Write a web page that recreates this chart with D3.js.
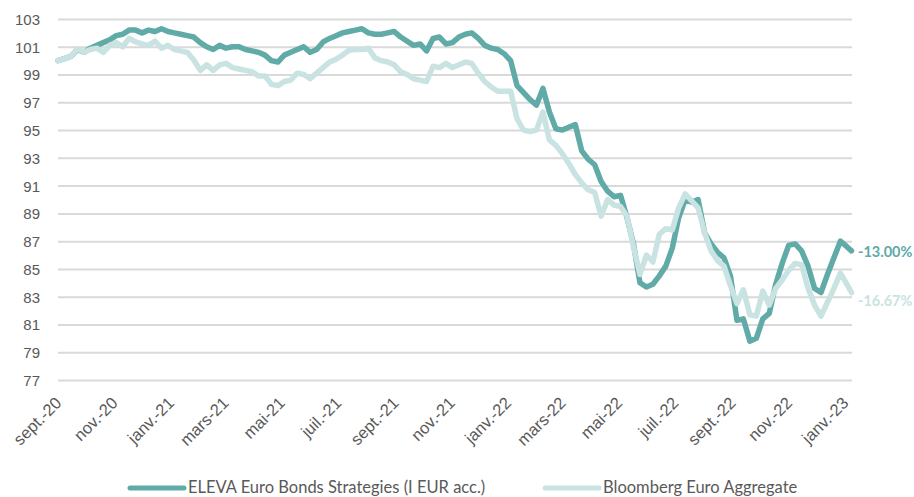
<!DOCTYPE html>
<meta charset="utf-8">
<style>
  body { margin: 0; background: #fff; }
  svg { font-family: "Lato", "Open Sans", sans-serif; }
  .tick text { fill: #595959; }
</style>
<body></body>
<script src="https://d3js.org/d3.v7.min.js"></script>
<script>

// weekly observations, base 100 at sept. 2020
var startDate = new Date(2020, 8, 1);
var lastDate = new Date(2023, 0, 8);

var eleva = [
  100.0, 100.15, 100.3, 100.8, 100.6, 100.9, 101.1, 101.3, 101.5, 101.8,
  101.9, 102.2, 102.2, 102.0, 102.2, 102.1, 102.3, 102.1, 102.0, 101.9,
  101.8, 101.7, 101.3, 101.0, 100.8, 101.1, 100.9, 101.0, 101.0, 100.8,
  100.7, 100.6, 100.4, 100.0, 99.9, 100.4, 100.6, 100.8, 101.0, 100.6,
  100.8, 101.35, 101.6, 101.8, 102.0, 102.1, 102.2, 102.3, 102.0, 101.9,
  101.9, 102.0, 102.1, 101.7, 101.4, 101.1, 101.2, 100.7, 101.6, 101.7,
  101.2, 101.3, 101.7, 101.9, 102.0, 101.6, 101.1, 100.9, 100.8, 100.5,
  100.0, 98.2, 97.7, 97.2, 96.8, 98.0, 96.3, 95.1, 95.0, 95.2,
  95.4, 93.5, 92.9, 92.5, 91.3, 90.6, 90.2, 90.3, 88.7, 86.8,
  84.0, 83.7, 83.9, 84.5, 85.2, 86.5, 88.7, 90.0, 89.8, 90.0,
  87.6, 86.8, 86.2, 85.8, 84.5, 81.3, 81.4, 79.8, 80.0, 81.4,
  81.8, 83.9, 85.4, 86.7, 86.8, 86.3, 85.2, 83.6, 83.3, 84.6,
  85.8, 87.0, 86.6, 86.3
];

var bloomberg = [
  100.0, 100.15, 100.3, 100.85, 100.6, 100.8, 100.9, 100.6, 101.1, 101.3,
  101.0, 101.6, 101.35, 101.2, 101.1, 101.4, 100.9, 101.1, 100.8, 100.7,
  100.6, 100.05, 99.3, 99.7, 99.3, 99.7, 99.8, 99.5, 99.4, 99.3,
  99.2, 98.9, 98.9, 98.3, 98.2, 98.5, 98.6, 99.1, 99.0, 98.7,
  99.1, 99.5, 99.9, 100.1, 100.4, 100.75, 100.8, 100.8, 100.9, 100.2,
  100.0, 99.9, 99.7, 99.2, 99.0, 98.7, 98.6, 98.5, 99.6, 99.5,
  99.8, 99.5, 99.7, 99.9, 99.8, 99.1, 98.5, 98.1, 97.8, 97.8,
  97.8, 95.8, 95.0, 94.9, 95.0, 96.3, 94.3, 93.9, 93.3, 92.6,
  91.8, 91.2, 90.7, 90.5, 88.8, 90.0, 89.6, 89.5, 88.8, 86.6,
  84.6, 86.0, 85.5, 87.5, 87.9, 87.8, 89.4, 90.4, 89.9, 89.4,
  87.6, 86.3, 85.6, 85.2, 83.8, 82.5, 83.5, 81.7, 81.6, 83.4,
  82.4, 83.6, 84.2, 84.9, 85.4, 85.3, 83.6, 82.4, 81.6, 82.6,
  83.6, 84.7, 83.9, 83.3
];

var dates = d3.range(eleva.length - 1).map(function(i) { return d3.timeDay.offset(startDate, 7 * i); });
dates.push(lastDate);

var yTicks = [77, 79, 81, 83, 85, 87, 89, 91, 93, 95, 97, 99, 101, 103];
var xTickLabels = ["sept.-20", "nov.-20", "janv.-21", "mars-21", "mai-21", "juil.-21", "sept.-21",
  "nov.-21", "janv.-22", "mars-22", "mai-22", "juil.-22", "sept.-22", "nov.-22", "janv.-23"];
var xTickDates = xTickLabels.map(function(d, i) { return d3.timeMonth.offset(startDate, 2 * i); });

var seriesNames = ["ELEVA Euro Bonds Strategies (I EUR acc.)", "Bloomberg Euro Aggregate"];
var endLabels = ["-13.00%", "-16.67%"];
var colors = ["#60aaa7", "#c8e3e1"];

var width = 914, height = 497;
var plotLeft = 58, plotRight = 852, plotTop = 19, plotBottom = 380;

var svg = d3.select("body").append("svg")
  .attr("width", width)
  .attr("height", height);

var xScale = d3.scaleTime()
  .domain([startDate, new Date(2023, 0, 1)])
  .range([plotLeft, 845]);

var yScale = d3.scaleLinear()
  .domain([77, 103])
  .range([plotBottom, plotTop]);

// y axis with grid
var yAxis = svg.append("g")
  .attr("transform", "translate(" + plotLeft + ",0)")
  .call(d3.axisLeft(yScale)
    .tickValues(yTicks)
    .tickFormat(d3.format("d"))
    .tickSize(-(plotRight - plotLeft))
    .tickPadding(18));
yAxis.select(".domain").remove();
yAxis.selectAll(".tick line").attr("stroke", "#d9d9d9").attr("stroke-width", 2);
yAxis.selectAll(".tick text").attr("dy", "0.36em").attr("font-size", 15);

// x axis, rotated labels
var xAxis = svg.append("g")
  .attr("transform", "translate(0," + (plotBottom + 8) + ")")
  .call(d3.axisBottom(xScale)
    .tickValues(xTickDates)
    .tickFormat(function(d, i) { return xTickLabels[i]; })
    .tickSize(0));
xAxis.select(".domain").remove();
xAxis.selectAll(".tick text")
  .attr("text-anchor", "end")
  .attr("font-size", 16.5)
  .attr("x", 0)
  .attr("y", 0)
  .attr("dy", 0)
  .attr("transform", "translate(4,16) rotate(-45)");

var line = d3.line()
  .x(function(d, i) { return xScale(dates[i]); })
  .y(function(d) { return yScale(d); });

[eleva, bloomberg].forEach(function(s, k) {
  svg.append("path")
    .datum(s)
    .attr("fill", "none")
    .attr("stroke", colors[k])
    .attr("stroke-width", 5.5)
    .attr("stroke-linejoin", "round")
    .attr("stroke-linecap", "round")
    .attr("d", line);
});

// end labels
[eleva, bloomberg].forEach(function(s, k) {
  svg.append("text")
    .attr("x", 858)
    .attr("y", yScale(s[s.length - 1]))
    .attr("dy", k == 0 ? "0.45em" : "0.9em")
    .attr("fill", colors[k])
    .attr("font-weight", "bold")
    .attr("font-size", 14.5)
    .text(endLabels[k]);
});

// legend
var legendX = [130, 545];
seriesNames.forEach(function(name, k) {
  var g = svg.append("g").attr("transform", "translate(" + legendX[k] + ",488)");
  g.append("line")
    .attr("x1", 0).attr("x2", 54)
    .attr("stroke", colors[k])
    .attr("stroke-width", 5)
    .attr("stroke-linecap", "round");
  g.append("text")
    .attr("x", 58)
    .attr("y", 5)
    .attr("fill", "#595959")
    .attr("font-size", 16.5)
    .text(name);
});

</script>
